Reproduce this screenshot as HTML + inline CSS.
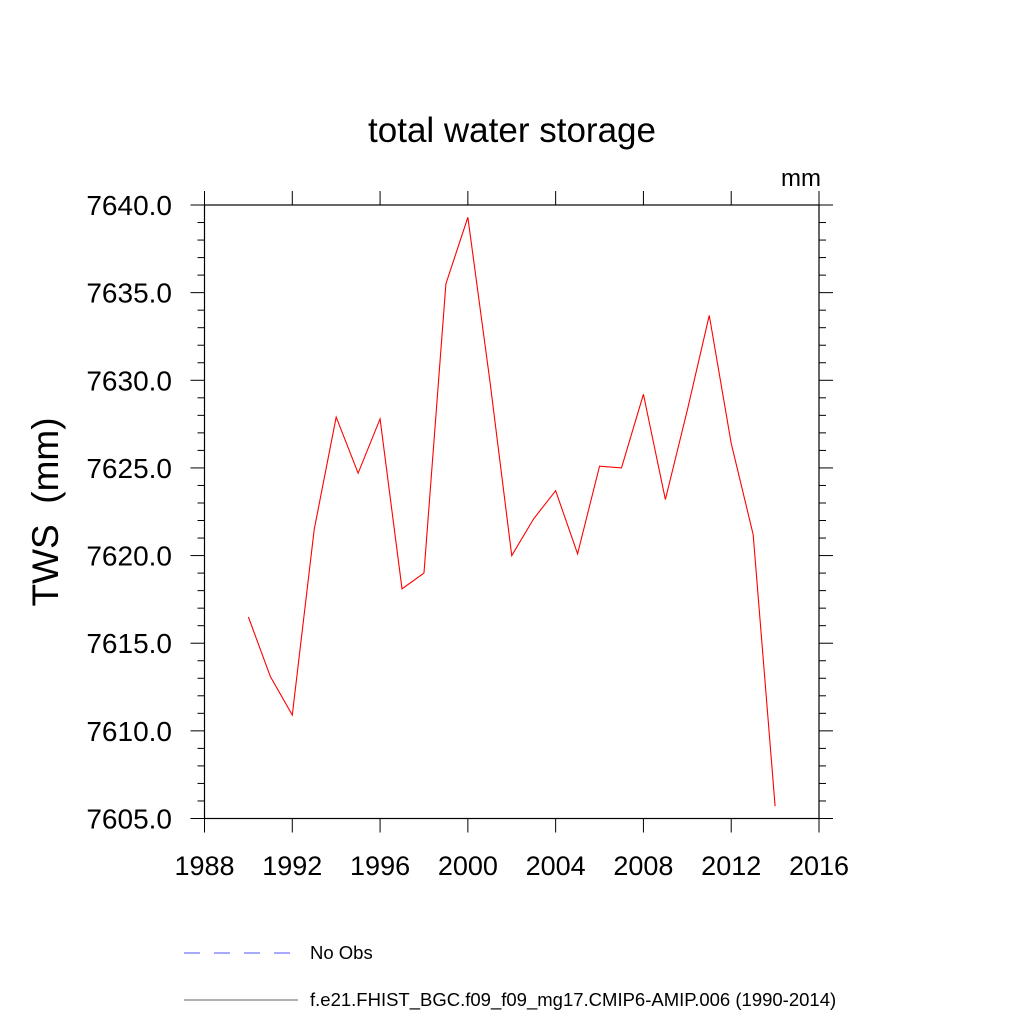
<!DOCTYPE html>
<html><head><meta charset="utf-8"><style>
body{margin:0;background:#fff;}
svg text{font-family:"Liberation Sans",sans-serif;fill:#000;white-space:pre;}
</style></head><body>
<svg id="chart" width="1024" height="1024" xmlns="http://www.w3.org/2000/svg">
<text x="512" y="142" font-size="35" text-anchor="middle">total water storage</text>
<text x="821" y="186" font-size="24" text-anchor="end">mm</text>
<text transform="translate(58,512) rotate(-90)" font-size="37" text-anchor="middle" xml:space="preserve">TWS  (mm)</text>
<g id="axes"></g>
<g id="series"></g>
<g>
<line x1="184" y1="953" x2="296" y2="953" stroke="#5050ff" stroke-width="1" stroke-dasharray="16,14"/>
<text x="310" y="959" font-size="18.5">No Obs</text>
<line x1="184" y1="1000" x2="298" y2="1000" stroke="#666" stroke-width="1"/>
<text x="310" y="1006" font-size="18.5">f.e21.FHIST_BGC.f09_f09_mg17.CMIP6-AMIP.006 (1990-2014)</text>
</g>
</svg>
<script>
const years=[1990,1991,1992,1993,1994,1995,1996,1997,1998,1999,2000,2001,2002,2003,2004,2005,2006,2007,2008,2009,2010,2011,2012,2013,2014];
const tws=[7616.5,7613.1,7610.9,7621.5,7627.9,7624.7,7627.8,7618.1,7619.0,7635.5,7639.3,7630.0,7620.0,7622.1,7623.7,7620.1,7625.1,7625.0,7629.2,7623.2,7628.3,7633.7,7626.4,7621.2,7605.7];
const xTicks=[1988,1992,1996,2000,2004,2008,2012,2016];
const yTicks=[7605,7610,7615,7620,7625,7630,7635,7640];
const NS="http://www.w3.org/2000/svg";
const L=204.5,R=819,T=205,B=818.5;
const xs=v=>L+(v-1988)/(2016-1988)*(R-L);
const ys=v=>B-(v-7605)/(7640-7605)*(B-T);
function mk(tag,attrs,parent){const e=document.createElementNS(NS,tag);for(const k in attrs)e.setAttribute(k,attrs[k]);parent.appendChild(e);return e;}
const ax=document.getElementById('axes');
const box=mk('rect',{x:L,y:T,width:R-L,height:B-T,fill:'none',stroke:'#000','stroke-width':1.2},ax);


xTicks.forEach(v=>{
  const x=xs(v);
  const t1=mk('line',{x1:x,y1:B,x2:x,y2:B+14,stroke:'#000','stroke-width':1},ax);
  
  
  const t2=mk('line',{x1:x,y1:T,x2:x,y2:T-14,stroke:'#000','stroke-width':1},ax);
  
  
  const t=mk('text',{x:x,y:875,'font-size':27,'text-anchor':'middle'},ax);t.textContent=v;
  
  
});
for(let v=7605;v<=7640;v++){
  const maj=v%5===0,len=maj?14:7,y=ys(v);
  const t1=mk('line',{x1:L,y1:y,x2:L-len,y2:y,stroke:'#000','stroke-width':1},ax);
  
  
  const t2=mk('line',{x1:R,y1:y,x2:R+len,y2:y,stroke:'#000','stroke-width':1},ax);
  
  
}
yTicks.forEach(v=>{const t=mk('text',{x:172,y:ys(v)+10,'font-size':28,'text-anchor':'end'},ax);t.textContent=v.toFixed(1);
  
  });
const pts=years.map((y,i)=>xs(y)+','+ys(tws[i])).join(' ');
const line=mk('polyline',{points:pts,fill:'none',stroke:'#ff0000','stroke-width':1.1},document.getElementById('series'));


</script>
</body></html>
